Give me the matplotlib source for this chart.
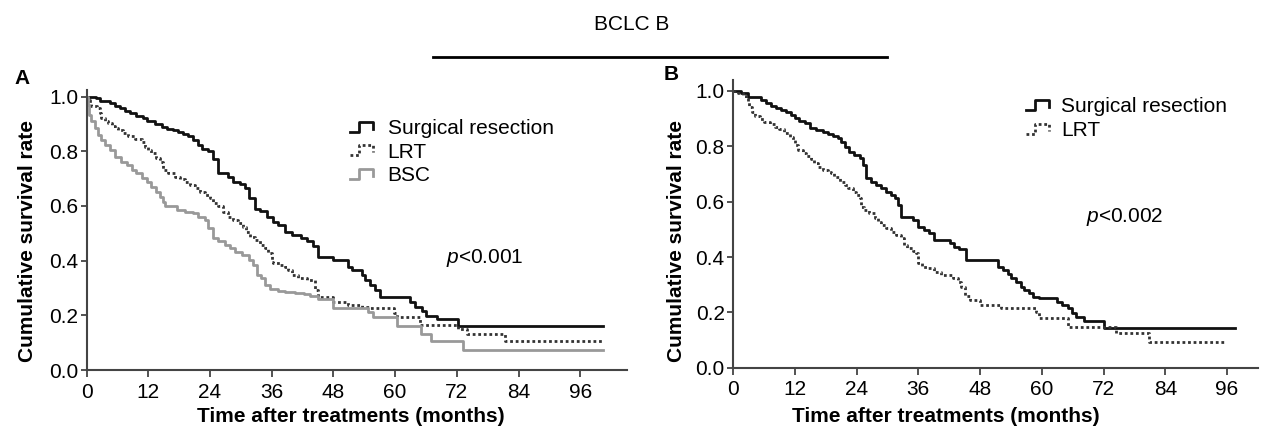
import matplotlib
matplotlib.use("Agg")
import matplotlib.pyplot as plt
from matplotlib.lines import Line2D
from matplotlib.legend_handler import HandlerLine2D

plt.rcParams['font.family'] = ['Liberation Sans', 'DejaVu Sans']
plt.rcParams['mathtext.fontset'] = 'custom'
plt.rcParams['mathtext.it'] = 'Liberation Sans:italic'
plt.rcParams['mathtext.rm'] = 'Liberation Sans'

# ---- panel A: Kaplan-Meier steps (months, survival) ----
a_surg_t = [0, 1.9, 2.6, 4.5, 5.5, 6.5, 7.5, 8.4, 9.7, 11.0, 11.7, 13.3, 14.6, 15.6, 16.9,
            17.8, 18.8, 19.8, 20.8, 21.7, 22.4, 23.7, 24.6, 25.6, 27.6, 28.5, 29.8, 30.8,
            31.5, 32.7, 33.7, 35.0, 36.3, 37.3, 38.6, 39.9, 41.8, 42.8, 44.1, 45.1, 48.0,
            50.9, 51.6, 53.5, 54.1, 55.1, 56.1, 57.1, 62.9, 63.9, 65.2, 66.1, 68.1, 72.3, 100.5]
a_surg_s = [1.0, 0.994, 0.985, 0.976, 0.967, 0.957, 0.948, 0.939, 0.93, 0.921, 0.909, 0.90,
            0.89, 0.882, 0.876, 0.87, 0.862, 0.854, 0.84, 0.823, 0.809, 0.80, 0.77, 0.72,
            0.707, 0.689, 0.68, 0.665, 0.628, 0.59, 0.58, 0.561, 0.543, 0.53, 0.506, 0.494,
            0.484, 0.47, 0.452, 0.413, 0.403, 0.378, 0.366, 0.348, 0.33, 0.311, 0.293, 0.268,
            0.25, 0.232, 0.214, 0.196, 0.186, 0.161, 0.161]

a_lrt_t = [0, 0.2, 0.65, 0.97, 1.95, 2.6, 2.9, 3.6, 4.2, 4.9, 5.5, 6.2, 7.1, 8.1, 9.4, 10.7,
           11.3, 12.0, 12.6, 13.6, 14.3, 14.9, 15.9, 17.2, 18.2, 19.1, 20.1, 21.1, 22.0, 23.0,
           24.0, 24.6, 25.6, 26.6, 27.6, 28.5, 29.5, 30.5, 31.1, 31.8, 32.7, 33.7, 34.7, 35.3,
           36.0, 36.3, 37.6, 38.6, 39.2, 39.9, 41.2, 42.8, 44.4, 45.1, 48.0, 50.9, 53.5, 55.1,
           59.7, 60.3, 64.9, 72.3, 74.0, 81.4, 100.5]
a_lrt_s = [1.0, 0.988, 0.976, 0.967, 0.957, 0.939, 0.921, 0.911, 0.902, 0.894, 0.884, 0.876,
           0.866, 0.854, 0.845, 0.833, 0.817, 0.805, 0.793, 0.777, 0.762, 0.732, 0.72, 0.707,
           0.699, 0.689, 0.677, 0.665, 0.652, 0.64, 0.628, 0.61, 0.598, 0.579, 0.561, 0.549,
           0.537, 0.524, 0.506, 0.488, 0.476, 0.457, 0.445, 0.427, 0.396, 0.39, 0.384, 0.378,
           0.366, 0.348, 0.338, 0.33, 0.293, 0.266, 0.247, 0.238, 0.232, 0.226, 0.207, 0.195,
           0.165, 0.15, 0.132, 0.107, 0.107]

a_bsc_t = [0, 0.2, 0.45, 0.97, 1.6, 2.3, 2.9, 3.6, 4.5, 5.5, 6.8, 7.8, 8.8, 9.7, 10.7, 11.7,
           12.6, 13.6, 14.3, 14.9, 15.2, 17.5, 19.1, 20.8, 21.7, 23.0, 23.7, 24.6, 25.6, 26.9,
           27.9, 28.9, 30.2, 31.5, 32.4, 33.1, 34.0, 34.7, 35.7, 37.3, 38.6, 40.5, 42.2, 43.5,
           45.1, 48.0, 54.8, 55.7, 60.3, 65.0, 67.0, 73.3, 100.5]
a_bsc_s = [1.0, 0.97, 0.933, 0.909, 0.884, 0.86, 0.841, 0.823, 0.805, 0.78, 0.762, 0.75, 0.732,
           0.72, 0.701, 0.689, 0.671, 0.652, 0.634, 0.616, 0.598, 0.585, 0.579, 0.573, 0.561,
           0.549, 0.518, 0.482, 0.47, 0.457, 0.445, 0.433, 0.421, 0.402, 0.384, 0.348, 0.335,
           0.311, 0.296, 0.29, 0.287, 0.283, 0.277, 0.27, 0.258, 0.225, 0.212, 0.195, 0.16,
           0.13, 0.105, 0.073, 0.073]

# ---- panel B ----
b_surg_t = [0, 1.6, 2.9, 5.5, 6.5, 7.4, 8.4, 9.4, 10.3, 11.3, 12.0, 12.9, 13.9, 14.9, 16.2,
            17.5, 18.4, 19.4, 20.4, 21.0, 21.7, 22.6, 23.6, 24.6, 25.2, 25.9, 26.8, 27.8, 28.8,
            29.7, 30.7, 31.4, 32.0, 32.6, 34.9, 35.9, 37.2, 38.1, 39.1, 42.1, 43.0, 44.0, 45.3,
            51.4, 52.4, 53.4, 54.0, 55.0, 55.9, 56.6, 57.6, 58.2, 59.5, 63.0, 64.0, 65.0, 65.9,
            66.6, 68.2, 72.1, 97.5]
b_surg_s = [1.0, 0.992, 0.98, 0.967, 0.955, 0.947, 0.937, 0.931, 0.925, 0.913, 0.904, 0.892,
            0.884, 0.867, 0.859, 0.853, 0.845, 0.839, 0.829, 0.817, 0.799, 0.781, 0.769, 0.759,
            0.733, 0.684, 0.672, 0.66, 0.648, 0.636, 0.624, 0.612, 0.588, 0.546, 0.534, 0.51,
            0.498, 0.486, 0.461, 0.452, 0.437, 0.428, 0.39, 0.365, 0.353, 0.339, 0.323, 0.309,
            0.293, 0.28, 0.269, 0.257, 0.251, 0.239, 0.227, 0.215, 0.197, 0.185, 0.17, 0.142,
            0.142]

b_lrt_t = [0, 1.0, 1.9, 2.6, 2.9, 3.2, 3.6, 4.2, 5.2, 6.1, 7.1, 8.1, 9.0, 10.0, 11.0, 11.6,
           12.0, 12.6, 13.6, 14.2, 15.2, 15.8, 16.5, 17.5, 18.4, 19.1, 19.7, 20.7, 21.7, 22.3,
           23.3, 23.9, 24.6, 24.9, 25.5, 26.5, 27.5, 28.1, 28.8, 29.7, 30.7, 31.7, 32.6, 33.3,
           33.9, 34.9, 35.6, 35.9, 36.8, 37.8, 39.1, 40.4, 42.7, 43.7, 44.3, 45.0, 46.0, 47.9,
           52.1, 58.9, 59.5, 65.0, 74.4, 80.8, 95.3]
b_lrt_s = [1.0, 0.992, 0.983, 0.973, 0.961, 0.943, 0.925, 0.911, 0.899, 0.889, 0.88, 0.871,
           0.861, 0.847, 0.835, 0.823, 0.805, 0.787, 0.775, 0.765, 0.754, 0.739, 0.727, 0.714,
           0.708, 0.702, 0.69, 0.672, 0.66, 0.648, 0.636, 0.624, 0.612, 0.582, 0.57, 0.558,
           0.54, 0.528, 0.516, 0.504, 0.492, 0.48, 0.467, 0.443, 0.431, 0.423, 0.413, 0.377,
           0.365, 0.359, 0.347, 0.335, 0.325, 0.31, 0.29, 0.258, 0.245, 0.228, 0.215, 0.2,
           0.178, 0.148, 0.124, 0.094, 0.094]

x_ticks = [0, 12, 24, 36, 48, 60, 72, 84, 96]
y_ticks = [0.0, 0.2, 0.4, 0.6, 0.8, 1.0]


class StepHandler(HandlerLine2D):
    # little Kaplan-Meier style step as legend key
    def create_artists(self, legend, orig_handle, xdescent, ydescent,
                       width, height, fontsize, trans):
        x0, y0 = -xdescent, -ydescent
        xs = [x0, x0 + 0.4 * width, x0 + 0.4 * width, x0 + width, x0 + width]
        ys = [y0 + 0.15 * height, y0 + 0.15 * height, y0 + 0.85 * height,
              y0 + 0.85 * height, y0 + 0.35 * height]
        line = Line2D(xs, ys)
        self.update_prop(line, orig_handle, legend)
        line.set_transform(trans)
        return [line]


W, H = 1263, 434
FS = 15
fig = plt.figure(figsize=(W / 100, H / 100), dpi=100)


def style_axes(ax, xmax, ymax):
    ax.set_xlim(0, xmax)
    ax.set_ylim(0, ymax)
    for side in ['top', 'right']:
        ax.spines[side].set_visible(False)
    for side in ['left', 'bottom']:
        ax.spines[side].set_color('#444444')
        ax.spines[side].set_linewidth(1.5)
    ax.set_xticks(x_ticks)
    ax.set_yticks(y_ticks)
    ax.set_yticklabels(['%.1f' % v for v in y_ticks])
    ax.tick_params(axis='x', direction='out', length=5, width=1.3, color='#444444',
                   labelsize=FS, pad=4)
    ax.tick_params(axis='y', direction='out', length=4, width=1.3, color='#444444',
                   labelsize=FS, pad=2)
    ax.patch.set_visible(False)


axA = fig.add_axes([86.5 / W, 1 - 370 / H, 540 / W, 280 / H])
style_axes(axA, 105, 1.024)
hs = axA.step(a_surg_t, a_surg_s, where='post', color='#111111', lw=2.0)[0]
hl = axA.step(a_lrt_t, a_lrt_s, where='post', color='#333333', lw=2.0,
              linestyle=(0, (1, 1)))[0]
hb = axA.step(a_bsc_t, a_bsc_s, where='post', color='#999999', lw=2.0)[0]
axA.legend([hs, hl, hb], ['Surgical resection', 'LRT', 'BSC'],
           handler_map={Line2D: StepHandler()}, frameon=False, fontsize=FS,
           loc='upper left', bbox_to_anchor=(350 / W, 1 - 119 / H),
           bbox_transform=fig.transFigure, borderpad=0, borderaxespad=0,
           handlelength=1.1, handleheight=0.7, handletextpad=0.7, labelspacing=0.22)
axA.text(70, 0.41, r'$p$<0.001', fontsize=FS, ha='left', va='center')

axB = fig.add_axes([733 / W, 1 - 367.7 / H, 525 / W, 287.8 / H])
style_axes(axB, 102, 1.04)
hs2 = axB.step(b_surg_t, b_surg_s, where='post', color='#111111', lw=2.0)[0]
hl2 = axB.step(b_lrt_t, b_lrt_s, where='post', color='#333333', lw=2.0,
               linestyle=(0, (1, 1)))[0]
axB.legend([hs2, hl2], ['Surgical resection', 'LRT'],
           handler_map={Line2D: StepHandler()}, frameon=False, fontsize=FS,
           loc='upper left', bbox_to_anchor=(1026 / W, 1 - 97 / H),
           bbox_transform=fig.transFigure, borderpad=0, borderaxespad=0,
           handlelength=1.1, handleheight=0.7, handletextpad=0.6, labelspacing=0.25)
axB.text(68.6, 0.545, r'$p$<0.002', fontsize=FS, ha='left', va='center')

# axis titles and panel letters
for xc in (28, 676):
    fig.text(xc / W, 1 - 241.5 / H, 'Cumulative survival rate', rotation=90,
             fontsize=FS, fontweight='bold', ha='center', va='center')
for xc in (351, 946):
    fig.text(xc / W, 1 - 417 / H, 'Time after treatments (months)',
             fontsize=FS, fontweight='bold', ha='center', va='center')
fig.text(22 / W, 1 - 78 / H, 'A', fontsize=FS, fontweight='bold', ha='center', va='center')
fig.text(671 / W, 1 - 75 / H, 'B', fontsize=FS, fontweight='bold', ha='center', va='center')

fig.text(632 / W, 1 - 25 / H, 'BCLC B', fontsize=FS, ha='center', va='center')
fig.add_artist(Line2D([433 / W, 887 / W], [1 - 57 / H, 1 - 57 / H],
                      transform=fig.transFigure, color='black', lw=2.0))

fig.savefig('out.png', dpi=100)
